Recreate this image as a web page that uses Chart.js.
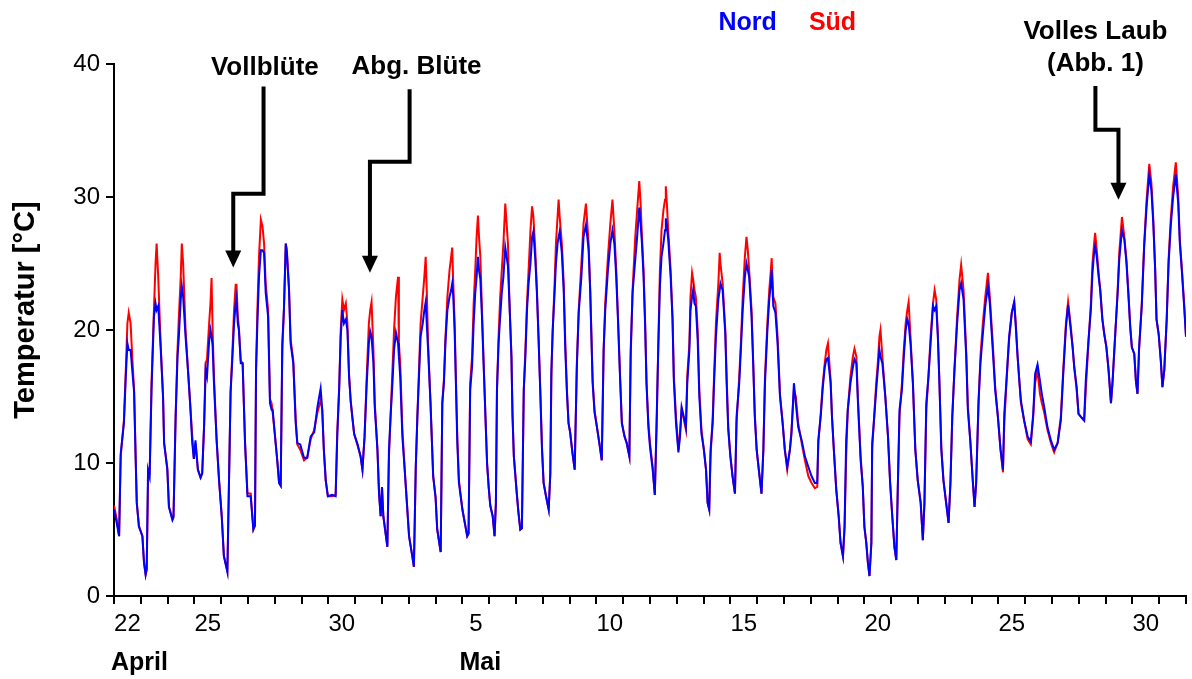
<!DOCTYPE html>
<html>
<head>
<meta charset="utf-8">
<script src="https://cdn.jsdelivr.net/npm/chart.js@4/dist/chart.umd.min.js"></script>
<style>
  html, body { margin: 0; padding: 0; background: #fff; }
  canvas { display: block; }
</style>
</head>
<body>
<canvas id="tempChart" width="1192" height="679"></canvas>
<script>
// Zeit in Tagen ab 22. April 0 Uhr, Temperaturen in °C
var zeit = [
  0.00,0.10,0.19,0.25,0.37,0.44,0.50,0.55,0.62,0.68,0.75,0.81,0.85,0.93,
  1.06,1.12,1.18,1.22,1.27,1.33,1.40,1.49,1.55,1.59,1.65,1.74,1.83,1.87,1.99,
  2.05,2.18,2.22,2.30,2.37,2.42,2.49,2.53,2.58,2.67,2.76,2.84,2.92,2.98,
  3.04,3.13,3.23,3.29,3.36,3.42,3.47,3.55,3.60,3.64,3.68,3.73,3.83,3.92,
  4.02,4.10,4.23,4.29,4.35,4.42,4.48,4.54,4.57,4.62,4.66,4.73,4.80,4.89,4.98,
  5.10,5.20,5.26,5.30,5.35,5.41,5.48,5.54,5.60,5.66,5.75,5.82,5.88,5.92,6.00,
  6.10,6.16,6.22,6.28,6.34,6.41,6.45,6.53,6.59,6.69,6.78,6.84,6.95,
  7.09,7.21,7.34,7.47,7.59,7.71,7.77,7.83,7.90,7.98,
  8.14,8.27,8.33,8.40,8.46,8.52,8.58,8.65,8.71,8.77,8.83,8.89,8.96,
  9.09,9.20,9.27,9.35,9.43,9.51,9.56,9.61,9.68,9.73,9.83,9.89,9.95,
  10.00,10.05,10.20,10.26,10.32,10.39,10.45,10.52,10.60,10.63,10.68,10.76,10.88,
  11.01,11.13,11.19,11.26,11.32,11.38,11.44,11.52,11.58,11.63,11.67,11.72,11.81,11.91,
  12.00,12.06,12.19,12.25,12.31,12.37,12.44,12.52,12.58,12.62,12.66,12.71,12.81,12.87,
  13.00,13.18,13.23,13.29,13.36,13.42,13.48,13.53,13.58,13.62,13.67,13.73,13.79,13.86,13.92,
  13.98,14.04,14.13,14.20,14.25,14.29,14.35,14.41,14.47,14.53,14.60,14.65,14.70,14.75,14.83,14.87,14.92,
  15.03,15.09,15.16,15.22,15.29,15.35,15.41,15.47,15.54,15.60,15.65,15.72,15.78,15.84,15.91,15.97,
  16.03,16.12,16.22,16.28,16.32,16.37,16.44,16.49,16.55,16.59,16.63,16.71,16.78,16.84,16.90,16.96,
  17.02,17.11,17.19,17.27,17.34,17.44,17.52,17.61,17.66,17.71,17.77,17.86,17.93,
  18.02,18.11,18.20,18.27,18.33,18.43,18.52,18.60,18.67,18.74,18.80,18.89,18.95,
  19.05,19.13,19.23,19.28,19.35,19.45,19.52,19.60,19.65,19.70,19.76,19.82,19.87,19.94,
  20.00,20.10,20.18,20.25,20.31,20.37,20.43,20.50,20.56,20.59,20.63,20.68,20.77,20.84,20.89,20.97,
  21.06,21.12,21.18,21.26,21.34,21.39,21.47,21.51,21.57,21.61,21.66,21.71,21.78,21.84,21.92,
  22.01,22.09,22.15,22.21,22.26,22.34,22.39,22.46,22.55,22.60,22.63,22.71,22.81,22.86,22.92,
  23.00,23.08,23.17,23.23,23.33,23.39,23.46,23.54,23.60,23.65,23.70,23.79,23.85,23.91,23.98,
  24.06,24.16,24.23,24.29,24.38,24.45,24.51,24.54,24.60,24.68,24.76,24.85,24.95,
  25.03,25.12,25.22,25.28,25.37,25.44,25.53,25.66,25.78,25.91,
  26.03,26.15,26.24,26.28,26.37,26.44,26.52,26.58,26.64,26.74,26.79,26.86,26.95,
  27.04,27.11,27.20,27.26,27.32,27.38,27.48,27.57,27.63,27.70,27.76,27.86,27.94,
  28.00,28.07,28.13,28.19,28.26,28.29,28.35,28.44,28.50,28.56,28.60,28.67,28.78,28.88,28.96,
  29.04,29.12,29.19,29.25,29.31,29.40,29.47,29.54,29.60,29.65,29.72,29.81,29.90,29.99,
  30.10,30.18,30.24,30.31,30.39,30.47,30.56,30.62,30.68,30.74,30.80,30.87,30.95,
  31.05,31.14,31.21,31.28,31.36,31.46,31.55,31.61,31.70,31.80,31.86,31.95,
  32.05,32.11,32.17,32.26,32.33,32.42,32.51,32.61,32.68,32.79,32.88,32.98,
  33.08,33.17,33.22,33.30,33.40,33.50,33.59,33.65,33.71,33.78,33.84,33.96,
  34.09,34.21,34.30,34.37,34.46,34.55,34.62,34.71,34.83,34.96,
  35.08,35.21,35.33,35.42,35.52,35.60,35.70,35.77,35.83,35.92,35.99,
  36.11,36.20,36.26,36.36,36.45,36.51,36.57,36.61,36.67,36.74,36.80,36.88,36.95,
  37.03,37.11,37.20,37.26,37.36,37.45,37.51,37.61,37.70,37.78,37.86,37.92,37.98,
  38.07,38.13,38.19,38.25,38.35,38.44,38.53,38.63,38.71,38.78,38.85,38.90,38.98,
  39.06,39.12,39.19,39.28,39.35,39.43,39.52,39.62,39.71,39.77,39.85,39.93,40.00
];

var nord = [
  6.5,5.5,4.5,10.7,13,16.5,19,18.5,18.5,17,15.3,10.2,7,5.2,
  4.5,2.5,1.6,2.0,9.5,9,15.5,21,22,21.5,21.8,18.7,15,11.5,9.5,
  6.7,5.7,5.9,13.5,18,19.5,22.3,23.3,22.5,19.5,17,14.5,11.5,10.3,
  11.7,9.5,8.9,9.2,12.7,17,16.5,19.2,20,19.5,18.8,16,11.7,8.7,
  6,3,1.8,8.5,15.3,18,20.5,22,22.4,20.5,20,17.5,17.5,11.5,7.5,
  7.5,5,5.3,17,20.5,24,26,26,25.8,22.8,21,14.5,14,14,12.2,
  10,8.5,8.3,19,21.5,26.5,25.8,23,19,17.5,13,11.5,11.4,
  10.4,10.4,12,12.3,14.2,15.6,14,11,8.7,7.5,
  7.6,7.5,12,15.5,19.5,21.5,20.5,20.8,20,16.5,14.7,13.5,12.2,
  11.4,10.5,9.5,12,16,19,19.9,19.5,17.5,14.2,11,7.7,6,
  8.2,6,3.7,11,13.5,16,18.5,19.8,19,18,16.5,12,8.5,
  4.5,3,2.2,9.7,13.5,16.5,19.5,20.5,21.5,22.1,20.5,18.5,14.5,9,
  7.4,5,3.3,14.5,16,19.2,21.5,22.5,23,23.5,22.5,20,11.5,8.5,
  6.5,4.5,4.7,15.5,17.2,20.5,22.8,24,25.5,24.5,23.8,21,17.5,13.5,10,
  8.2,6.8,6,4.5,7,15.5,19,21,22.8,24,26.2,25.5,24.8,22.3,18,13.5,10.5,
  7.7,6.3,5,5.1,15.5,18,21.5,23.5,25,27,27.4,25.3,22.8,19.5,15,11,
  8.5,7.5,6.5,9.2,17,20,22.8,25,26.5,27,27.4,25.8,23,18.5,15.3,13,
  12.3,10.7,9.5,17.2,21.3,24,27,27.9,27,26,22.8,16,13.8,
  12.7,11.5,10.2,18.5,21.5,24.5,26.5,27.5,26.5,24,21,16,13,
  12,11.5,10.5,18.5,22.8,25.3,27,29.2,28,26.5,24,20.2,16,12.7,
  11.2,9.5,7.6,13.5,18.7,23.3,25.5,26.5,27.5,28.4,27.8,26.8,24,20.8,16.2,13,
  10.8,12,14.2,13.5,12.7,16,18.5,21.5,22.5,23,22,21.8,19.2,15,12.2,
  11,9.5,7,6.5,11,13,16,19.5,22.3,23,23.5,23,19.7,16,12.5,
  10.5,9,7.7,13.5,16,18.5,21.5,24,25,24.5,24,21,17.5,13.5,11,
  9.5,7.7,11,16,20,22.3,23.5,24.5,21.8,21.3,19,15,13,
  11,9.7,11,12.2,16,14.5,12.7,11.7,10.5,9.7,
  9,8.5,8.5,11.7,13.5,15.5,17.2,17.8,17.9,16,13.5,11,8,
  6,4,3,5.2,11.7,14,16,17.2,17.8,17.5,14.5,10.2,8.2,
  5.2,4,2.5,1.5,4,11.5,13,15.5,17,18.5,18,17.5,15,12,8.5,
  6,3.7,2.7,8.5,14,15.5,18,20,20.8,20.5,19,16,11,8.7,
  7,4.2,7,14.5,16.5,19,21.8,21.5,21.8,19.5,16,11,8.7,
  7,5.5,8.5,13.5,17,20.5,23,23.5,22.3,18,14,11.7,
  8.5,6.7,8.5,14.7,17.5,19.7,21.8,23.3,22,18.5,15.5,13.5,
  11,9.5,13.7,16.2,19.5,21.3,22.1,20.2,18.2,16.2,14.7,13.2,
  12,11.6,13.7,16.7,17.4,16.2,15.2,14.2,12.7,11.7,
  11,11.5,13.2,16.7,20.2,21.9,20,18.7,17.2,15.7,13.7,
  13.4,13.2,16.2,19.2,21.5,24.3,25.8,26.3,25.5,24,23,20.8,19.7,
  18.7,17,14.5,16.2,19.7,22.8,25.3,27.5,26.8,25,22.3,20.2,18.7,
  18.2,16.2,15.2,18.7,21.8,26.3,29.3,31.7,30.5,28,24.5,20.8,19.7,
  17.7,15.7,17,20.8,25,27.8,30,31.7,29.5,26.5,24.3,21.8,19.5
];

var sued = [
  6.8,5.8,4.5,10.5,13.2,17,20.5,21.3,20.5,18,15.5,10.2,7,5.3,
  4.5,2.5,1.6,2.0,8.5,9.2,16,21.5,25,26.5,24,19,15,11.5,9.6,
  6.7,5.8,6.0,13.5,18.5,21,24,26.5,25,20,17,14.5,12,10.3,
  11.5,9.5,8.9,9.2,12.7,17.5,17.8,20.5,22,23.9,20,16.5,11.7,8.7,
  6,3,1.9,8.5,15.3,18.5,21.5,23.4,23.4,21,20.2,17.7,17.5,11.5,7.7,
  7.7,5,5.3,17,21.5,25.5,28.3,27.8,26.5,23.5,21.5,14.8,14.5,13.8,12.2,
  10,8.5,8.3,18.5,21.5,26.5,26,23.2,19.3,17.7,13.3,11.4,11.0,
  10.2,10.4,11.8,12.5,13.8,14.7,14,11,8.7,7.5,
  7.5,7.6,12.3,15.5,20,22.3,21.5,22,20.5,16.7,14.7,13.5,12.2,
  11.3,10.5,9.5,12,16.5,20.5,21.5,22.1,18.5,14.5,11,7.7,6,
  8.2,6,3.7,10.5,13.5,17,20,22.5,24,19,17.5,12.5,8.5,
  4.5,3,2.2,9.7,13.5,17,20.5,22.5,24,25.5,23,19,14.5,9,
  7.4,5,3.3,14.5,16.3,19.5,22.5,24.5,25.5,26.2,23.5,20.5,12,8.7,
  6.5,4.5,4.7,16,18,22,24.5,27,28.6,27,25.5,21.5,17.7,13.5,10,
  8.2,6.8,6,4.5,7,15.5,19.5,22.5,24.5,26.5,29.5,28,26.5,22.5,18,13.7,10.5,
  7.7,6.3,5,5.1,15.5,18.5,22,24.5,27.5,29.3,28.5,26,23,19.5,15.3,11.2,
  8.5,7.5,6.5,9.2,16.5,20,23.5,26.5,28.5,29.8,28.5,26.5,23.5,19,15.5,13,
  12.3,10.7,9.5,17.5,21.5,25,28,29.5,28,26.5,23,16.2,14,
  12.7,11.5,10.2,18.5,22,25.5,28,29.8,27.5,24.5,21.3,16.2,13,
  12,11.5,10.5,18,23,27,29,31.2,29.5,27,24.5,20.5,16,13,
  11.5,9.7,7.6,13,19,24.5,27.5,29,29.8,30.8,29.5,27.5,24.5,21,16.5,13.5,
  11,12.3,14,13.3,12.5,16.5,19,22.5,24.3,23.8,23,22.5,20,15.5,12.5,
  11,9.5,7,6.5,10.5,13.5,16.5,20.5,23.5,25.8,25,23.5,20,16.5,12.7,
  10.5,9,7.7,13,16.5,19,22.5,25.5,27,26,24.5,21.5,17.7,13.7,11,
  9.5,7.7,11,16.5,20.5,23,24.5,25.4,22.5,22,19.5,15.2,13,
  11,9.5,11,12.5,15.5,15,13,11.5,10.2,9,
  8.5,8.1,8.2,11.5,13.7,15.8,17.5,18.5,19,16.2,13.5,11,8,
  6,4,3,5.2,10.5,14,16.5,18,18.6,18,14.8,10.5,8.2,
  5.2,4,2.5,1.5,4,11,13,16,17.5,19.5,20,18,15,12,8.5,
  6,3.7,2.7,8.5,13.5,16,18.5,20.5,21.5,22.1,19.5,16,11,8.7,
  7,4.2,7,14,16.5,19.5,22,23,22.3,19.7,16,11.2,8.7,
  7,5.5,8.5,13.5,17,21,23.8,24.9,23,18.3,14.3,11.7,
  8.5,6.7,8.5,14.5,18,20.5,22.5,24.3,22.5,19,15.7,13.5,
  11,9.3,13,16,19.3,21.3,22.1,20.5,18.2,16.2,14.5,13.2,
  11.8,11.4,13.5,16,17,15.2,14.5,13.8,12.5,11.5,
  10.8,11.5,13.5,17,20.5,22.1,20.3,18.7,17.2,15.5,13.7,
  13.4,13.2,15.5,19,22,25,26.5,27.3,26,24.3,23,20.8,19.7,
  18.7,17,14.5,16,19.7,23,25.8,28.5,27,25.2,22.5,20.2,18.7,
  18.2,16.2,15.2,18.5,22,26.5,29.8,32.5,31,28.3,24.5,20.8,19.7,
  17.7,15.7,17,20.8,25.3,28.3,30.8,32.6,30,26.8,24.5,22,19.5
];

// Achsenbeschriftung: Tag-Index (ab 22. April) und Text, mittig im Tag
var tagPos = [0, 3, 8, 13, 18, 23, 28, 33, 38];
var tagLabels = ['22', '25', '30', '5', '10', '15', '20', '25', '30'];
var monatPos = [0, 13];
var monatLabels = ['April', 'Mai'];
var yTicks = [0, 10, 20, 30, 40];

var FONT = "'Liberation Sans', Arial, Helvetica, sans-serif";

if (zeit.length !== nord.length || zeit.length !== sued.length) {
    console.log('Laenge stimmt nicht', zeit.length, nord.length, sued.length);
}

function punkte(werte) {
    var arr = [];
    for (var i = 0; i < zeit.length; i++) {
        arr.push({ x: zeit[i], y: werte[i] });
    }
    return arr;
}

// Pfeile mit Text (Position in Achseneinheiten: Tag, °C)
var pfeile = [
    { text: ['Vollblüte'], tx: 5.63, ty: [39.7],
      pfad: [[5.58, 38.3], [5.58, 30.25], [4.45, 30.25], [4.45, 24.7]] },
    { text: ['Abg. Blüte'], tx: 11.29, ty: [39.75],
      pfad: [[11.03, 38.1], [11.03, 32.65], [9.55, 32.65], [9.55, 24.3]] },
    { text: ['Volles Laub', '(Abb. 1)'], tx: 36.62, ty: [42.4, 40.05],
      pfad: [[36.62, 38.35], [36.62, 35.05], [37.48, 35.05], [37.48, 29.8]] }
];

var beschriftungPlugin = {
    id: 'beschriftung',
    afterDraw: function (chart) {
        var ctx = chart.ctx;
        var xs = chart.scales.x, ys = chart.scales.y;
        ctx.save();

        // Pfeile
        pfeile.forEach(function (p) {
            ctx.fillStyle = '#000';
            ctx.font = 'bold 26px ' + FONT;
            ctx.textAlign = 'center';
            ctx.textBaseline = 'middle';
            p.text.forEach(function (t, i) {
                ctx.fillText(t, xs.getPixelForValue(p.tx), ys.getPixelForValue(p.ty[i]));
            });
            var pts = p.pfad.map(function (q) {
                return [xs.getPixelForValue(q[0]), ys.getPixelForValue(q[1])];
            });
            var tip = pts[pts.length - 1];
            ctx.strokeStyle = '#000';
            ctx.lineWidth = 4;
            ctx.lineJoin = 'miter';
            ctx.beginPath();
            ctx.moveTo(pts[0][0], pts[0][1]);
            for (var i = 1; i < pts.length - 1; i++) ctx.lineTo(pts[i][0], pts[i][1]);
            ctx.lineTo(tip[0], tip[1] - 14);
            ctx.stroke();
            ctx.beginPath();
            ctx.moveTo(tip[0], tip[1]);
            ctx.lineTo(tip[0] - 8, tip[1] - 17);
            ctx.lineTo(tip[0] + 8, tip[1] - 17);
            ctx.closePath();
            ctx.fill();
        });

        // Legende als Text
        ctx.font = 'bold 25px ' + FONT;
        ctx.textAlign = 'center';
        ctx.textBaseline = 'middle';
        ctx.fillStyle = '#0000ff';
        ctx.fillText('Nord', xs.getPixelForValue(23.64), 23);
        ctx.fillStyle = '#ff0000';
        ctx.fillText('Süd', xs.getPixelForValue(26.81), 23);

        // Monate unter der Achse
        ctx.fillStyle = '#000';
        ctx.textAlign = 'left';
        monatLabels.forEach(function (m, i) {
            ctx.fillText(m, xs.getPixelForValue(monatPos[i]) - 3, chart.chartArea.bottom + 67);
        });

        // y-Achsentitel (etwas oberhalb der Mitte wie im Original)
        ctx.save();
        ctx.translate(26, ys.getPixelForValue(21.5));
        ctx.rotate(-Math.PI / 2);
        ctx.font = 'bold 29px ' + FONT;
        ctx.textAlign = 'center';
        ctx.textBaseline = 'middle';
        ctx.fillText('Temperatur [°C]', 0, 0);
        ctx.restore();

        ctx.restore();
    }
};

var tickWerte = [];
for (var d = 0; d <= 40; d++) {
    tickWerte.push(d);
    if (d < 40) tickWerte.push(d + 0.5);
}

new Chart(document.getElementById('tempChart').getContext('2d'), {
    type: 'line',
    data: {
        datasets: [{
            label: 'Nord',
            data: punkte(nord),
            borderColor: '#0000ff',
            borderWidth: 2,
            pointRadius: 0,
            order: 1
        }, {
            label: 'Süd',
            data: punkte(sued),
            borderColor: '#ff0000',
            borderWidth: 2,
            pointRadius: 0,
            order: 2
        }]
    },
    options: {
        responsive: false,
        animation: false,
        devicePixelRatio: 1,
        parsing: false,
        layout: { padding: { top: 64, right: 6, bottom: 0, left: 0 } },
        plugins: {
            legend: { display: false },
            tooltip: { enabled: false }
        },
        scales: {
            x: {
                type: 'linear',
                min: 0,
                max: 40,
                afterBuildTicks: function (axis) {
                    axis.ticks = tickWerte.map(function (v) { return { value: v }; });
                },
                afterFit: function (axis) { axis.height = 83; },
                border: { display: true, color: '#000', width: 2 },
                grid: {
                    drawOnChartArea: false,
                    drawTicks: true,
                    tickLength: 8,
                    lineWidth: 2,
                    color: function (c) {
                        return (c.tick && Number.isInteger(c.tick.value)) ? '#000' : 'rgba(0,0,0,0)';
                    }
                },
                ticks: {
                    autoSkip: false,
                    maxRotation: 0,
                    padding: 6,
                    color: '#000',
                    font: { family: FONT, size: 24 },
                    callback: function (v) {
                        var k = tagPos.indexOf(v - 0.5);
                        return k >= 0 ? tagLabels[k] : '';
                    }
                }
            },
            y: {
                min: 0,
                max: 40,
                afterBuildTicks: function (axis) {
                    axis.ticks = yTicks.map(function (v) { return { value: v }; });
                },
                afterFit: function (axis) { axis.width = 114; },
                border: { display: true, color: '#000', width: 2 },
                grid: {
                    drawOnChartArea: false,
                    drawTicks: true,
                    tickLength: 8,
                    lineWidth: 2,
                    color: '#000'
                },
                ticks: {
                    padding: 6,
                    color: '#000',
                    font: { family: FONT, size: 24 }
                }
            }
        }
    },
    plugins: [beschriftungPlugin]
});
</script>
</body>
</html>
